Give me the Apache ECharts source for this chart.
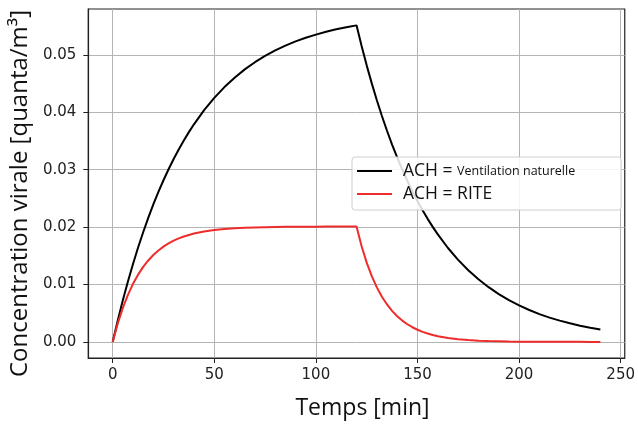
<!DOCTYPE html>
<html>
<head>
    <meta charset="utf-8">
    <script src="https://cdn.jsdelivr.net/npm/echarts@6/dist/echarts.min.js"></script>
    <title>Concentration virale</title>
    <style>
        html, body { margin: 0; padding: 0; background: #fff; }
    </style>
</head>
<body>
    <div id="main" style="width:638px; height:425px;"></div>
    <script type="text/javascript">
        // temps [min] (pas plus fin là où ça bouge vite)
        var temps = [0, 2.5, 5, 7.5, 10, 12.5, 15, 17.5, 20, 22.5, 25, 27.5, 30, 32.5, 35, 37.5, 40,
            45, 50, 55, 60, 65, 70, 75, 80, 85, 90, 95, 100, 105, 110, 115,
            120, 122.5, 125, 127.5, 130, 132.5, 135, 137.5, 140, 142.5, 145, 147.5, 150, 152.5, 155, 157.5, 160,
            165, 170, 175, 180, 185, 190, 195, 200, 205, 210, 215, 220, 225, 230, 235, 240];
        // ACH = Ventilation naturelle
        var ventNaturelle = [0, 0.00375, 0.00725, 0.01052, 0.01358, 0.01644, 0.01911, 0.02162, 0.02395,
            0.02613, 0.02817, 0.03008, 0.03186, 0.03353, 0.03509, 0.03655, 0.03791,
            0.04037, 0.04252, 0.04440, 0.04604, 0.04748, 0.04873, 0.04982, 0.05078, 0.05161, 0.05235,
            0.05299, 0.05354, 0.05403, 0.05446, 0.05483,
            0.05515, 0.05155, 0.04818, 0.04504, 0.04210, 0.03936, 0.03679, 0.03438, 0.03214, 0.03004,
            0.02808, 0.02625, 0.02454, 0.02293, 0.02144, 0.02004, 0.01873,
            0.01636, 0.01430, 0.01249, 0.01091, 0.00954, 0.00833, 0.00728, 0.00636, 0.00556, 0.00485,
            0.00424, 0.00371, 0.00324, 0.00283, 0.00247, 0.00216];
        // ACH = RITE
        var rite = [0, 0.00323, 0.00594, 0.00821, 0.01012, 0.01172, 0.01307, 0.01419, 0.01514, 0.01594,
            0.01661, 0.01717, 0.01764, 0.01803, 0.01837, 0.01864, 0.01888,
            0.01924, 0.01949, 0.01967, 0.01980, 0.01989, 0.01995, 0.01999, 0.02003, 0.02005, 0.02006,
            0.02007, 0.02008, 0.02009, 0.02009, 0.02010,
            0.02010, 0.01666, 0.01381, 0.01145, 0.00950, 0.00787, 0.00653, 0.00541, 0.00448, 0.00372,
            0.00308, 0.00256, 0.00212, 0.00176, 0.00146, 0.00121, 0.00100,
            0.00069, 0.00047, 0.00033, 0.00022, 0.00015, 0.00011, 0.00007, 0.00005, 0.00003, 0.00002,
            0.00002, 0.00001, 0.00001, 0.00001, 0, 0];
        var xTicks = [0, 50, 100, 150, 200, 250];
        var yTicks = [0, 0.01, 0.02, 0.03, 0.04, 0.05];

        function pairs(xs, ys) {
            var out = [];
            for (var i = 0; i < xs.length; i++) out.push([xs[i], ys[i]]);
            return out;
        }

        var myChart = echarts.init(document.getElementById('main'));
        var font = '"Open Sans", "Noto Sans", sans-serif';
        var tickFont = '"DejaVu Sans", sans-serif';

        var option = {
            animation: false,
            grid: {
                left: 88, right: 12, top: 9, bottom: 67,
                show: true, borderColor: '#222', borderWidth: 1.2, backgroundColor: 'transparent'
            },
            legend: {
                orient: 'vertical',
                left: 352, top: 157,
                padding: [5, 46, 7, 5],
                itemGap: 5,
                itemWidth: 35, itemHeight: 2,
                icon: 'rect',
                backgroundColor: 'rgba(255,255,255,0.85)',
                borderColor: '#cfcfcf', borderWidth: 1, borderRadius: 3,
                textStyle: {
                    fontFamily: font, color: '#111',
                    rich: {
                        f: { fontFamily: font, fontSize: 17.5, lineHeight: 18, color: '#111', padding: [0, 0, 0, 6] },
                        a: { fontFamily: font, fontSize: 17.5, lineHeight: 18, color: '#111' },
                        b: { fontFamily: font, fontSize: 12.5, lineHeight: 18, color: '#111' }
                    }
                },
                formatter: function (name) {
                    var parts = name.split('= ');
                    return '{f|' + parts[0] + '= }' + (parts[1] === 'RITE' ? '{a|RITE}' : '{b|' + parts[1] + '}');
                },
                data: ['ACH = Ventilation naturelle', 'ACH = RITE']
            },
            xAxis: {
                type: 'value',
                min: -12, max: 252,
                name: 'Temps [min]',
                nameLocation: 'middle',
                nameGap: 39,
                nameTextStyle: { fontFamily: font, fontSize: 23, color: '#111', padding: [0, 0, 0, 12] },
                axisLine: { show: true, onZero: false, lineStyle: { color: '#222', width: 1.2 } },
                axisTick: { show: true, inside: false, length: 5, customValues: xTicks, lineStyle: { color: '#222' } },
                axisLabel: { customValues: xTicks, margin: 10, fontFamily: tickFont, fontSize: 15, color: '#222' },
                splitLine: { show: true, lineStyle: { color: '#b4b4b4', width: 1 } }
            },
            yAxis: {
                type: 'value',
                min: -0.0028, max: 0.058,
                name: 'Concentration virale [quanta/m³]',
                nameLocation: 'middle',
                nameGap: 51,
                nameTextStyle: { fontFamily: font, fontSize: 24, color: '#111', padding: [0, 20, 0, 0] },
                axisLine: { show: true, onZero: false, lineStyle: { color: '#222', width: 1.2 } },
                axisTick: { show: true, inside: false, length: 5, customValues: yTicks, lineStyle: { color: '#222' } },
                axisLabel: {
                    customValues: yTicks, margin: 12, fontFamily: tickFont, fontSize: 15, color: '#222',
                    formatter: function (v) { return v.toFixed(2); }
                },
                splitLine: { show: true, lineStyle: { color: '#b4b4b4', width: 1 } }
            },
            series: [
                {
                    name: 'ACH = Ventilation naturelle',
                    type: 'line',
                    showSymbol: false,
                    color: '#000',
                    lineStyle: { width: 2, color: '#000' },
                    data: pairs(temps, ventNaturelle)
                },
                {
                    name: 'ACH = RITE',
                    type: 'line',
                    showSymbol: false,
                    color: '#ee2c2c',
                    lineStyle: { width: 2, color: '#ee2c2c' },
                    data: pairs(temps, rite)
                }
            ]
        };
        myChart.setOption(option);
    </script>
</body>
</html>
